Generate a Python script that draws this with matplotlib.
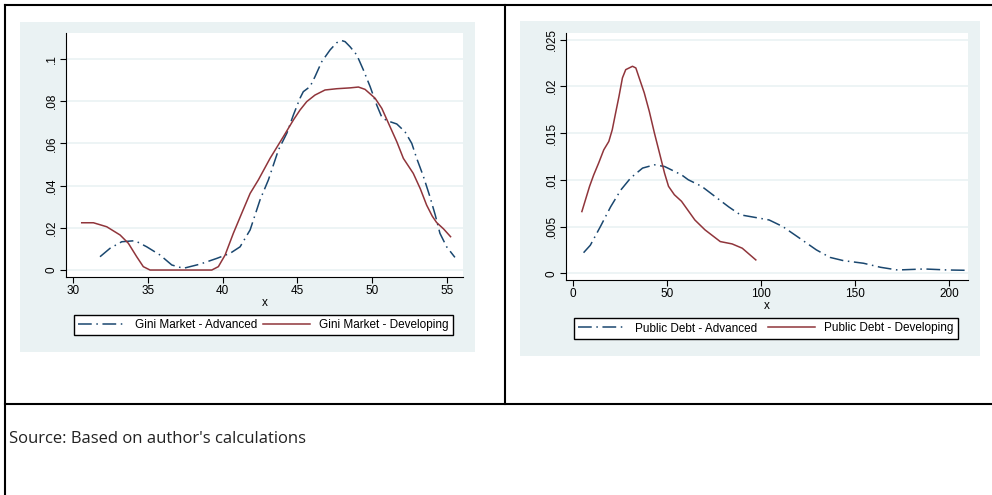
import numpy as np
import matplotlib.pyplot as plt
from matplotlib.lines import Line2D
from matplotlib.patches import Rectangle

plt.rcParams['font.family'] = ['Liberation Sans', 'DejaVu Sans']

# Gini market kernel densities
gini_adv_x = [31.82, 32.49, 33.27, 34.16, 34.94, 35.83, 36.61, 37.38, 38.5, 39.61,
              40.5, 41.17, 41.84, 42.5, 43.06, 43.73, 44.29, 44.73, 45.17, 45.39,
              45.84, 46.17, 46.62, 47.18, 47.62, 47.96, 48.18, 48.51, 48.96, 49.4,
              49.85, 50.29, 50.63, 50.96, 51.63, 52.18, 52.63, 52.96, 53.4, 53.84,
              54.2, 54.51, 54.96, 55.51]
gini_adv_y = [0.0063, 0.0103, 0.0134, 0.0139, 0.011, 0.0071, 0.0024, 0.0008, 0.0028, 0.0055,
              0.0079, 0.011, 0.019, 0.0332, 0.0427, 0.0569, 0.0648, 0.0735, 0.0814, 0.0845,
              0.0869, 0.0916, 0.0987, 0.1043, 0.1077, 0.1087, 0.1082, 0.1058, 0.1019, 0.0948,
              0.0869, 0.0782, 0.0724, 0.0708, 0.0692, 0.0655, 0.06, 0.0529, 0.0445, 0.0348,
              0.026, 0.0174, 0.011, 0.006]
gini_dev_x = [30.6, 31.38, 32.27, 33.16, 33.71, 34.27, 34.71, 35.16, 39.28, 39.72,
              40.17, 40.72, 41.28, 41.84, 42.39, 43.17, 44.06, 44.73, 45.17, 45.62,
              46.17, 46.84, 47.62, 48.51, 49.07, 49.51, 50.18, 50.63, 51.18, 51.63,
              52.07, 52.73, 53.2, 53.62, 54.0, 54.29, 54.75, 55.22]
gini_dev_y = [0.0224, 0.0224, 0.0205, 0.0166, 0.0127, 0.0063, 0.0016, 0.0, 0.0, 0.0016,
              0.0071, 0.0174, 0.0269, 0.0363, 0.0427, 0.0529, 0.0632, 0.0711, 0.0758, 0.0798,
              0.0829, 0.0853, 0.0859, 0.0863, 0.0867, 0.0856, 0.0814, 0.0766, 0.0679, 0.0608,
              0.0529, 0.0458, 0.0385, 0.0308, 0.0255, 0.0225, 0.0195, 0.0158]

# Public debt kernel densities
debt_adv_x = [5.74, 9.33, 14.7, 20.1, 25.5, 30.8, 37.1, 43.4, 48.8, 57.8, 61.4, 68.5,
              75.7, 82.9, 89.1, 99.0, 104.4, 111.6, 120.6, 129.5, 136.7, 143.9, 154.6,
              163.6, 172.6, 186.9, 199.5, 208.5]
debt_adv_y = [0.0022, 0.003, 0.005, 0.0071, 0.0089, 0.0102, 0.01125, 0.0116, 0.01142, 0.01053,
              0.0100, 0.0093, 0.0082, 0.0071, 0.00625, 0.0059, 0.0057, 0.005, 0.00375, 0.0025,
              0.0017, 0.00135, 0.00107, 0.00064, 0.00035, 0.00046, 0.00035, 0.00032]
debt_dev_x = [4.84, 8.93, 11.09, 13.78, 16.47, 19.16, 20.99, 22.77, 24.55, 26.4, 28.15,
              31.75, 33.53, 35.3, 38.0, 40.7, 43.4, 46.1, 48.8, 50.9, 54.0, 57.8, 64.9,
              70.3, 78.4, 84.7, 90.1, 97.3]
debt_dev_y = [0.0066, 0.0093, 0.0105, 0.0118, 0.0132, 0.0141, 0.01535, 0.01714, 0.0189, 0.0209,
              0.02178, 0.02214, 0.02196, 0.0209, 0.0193, 0.0173, 0.015, 0.01286, 0.0107, 0.0093,
              0.0084, 0.0077, 0.0057, 0.00464, 0.00339, 0.00314, 0.00268, 0.00143]

gini_xticks = [30, 35, 40, 45, 50, 55]
gini_yticks = [0, 0.02, 0.04, 0.06, 0.08, 0.1]
gini_ylabels = ["0", ".02", ".04", ".06", ".08", ".1"]
debt_xticks = [0, 50, 100, 150, 200]
debt_yticks = [0, 0.005, 0.01, 0.015, 0.02, 0.025]
debt_ylabels = ["0", ".005", ".01", ".015", ".02", ".025"]

NAVY = "#1a476f"
MAROON = "#90353b"
BG = "#eaf2f3"
W, H = 992, 495

fig = plt.figure(figsize=(W / 100, H / 100), dpi=100)


def fx(px):
    return px / W


def fy(py):
    return 1 - py / H


# table borders (no right edge in the original)
for xs, ys in [((5, 5), (5, 495)), ((5, 992), (5, 5)), ((505, 505), (5, 404)),
               ((5, 992), (404, 404))]:
    fig.add_artist(Line2D([fx(x) for x in xs], [fy(y) for y in ys], color="black", lw=1.5))


def panel(region, box, xr, yr, xt, yt, ylab, leg, adv, dev, names):
    rx0, ry0, rx1, ry1 = region
    fig.add_artist(Rectangle((fx(rx0), fy(ry1)), fx(rx1 - rx0), (ry1 - ry0) / H,
                             facecolor=BG, edgecolor="none", zorder=0))
    x0, y0, x1, y1 = box
    ax = fig.add_axes([fx(x0), fy(y1), fx(x1 - x0), (y1 - y0) / H])
    ax.set_facecolor("white")
    ax.plot(adv[0], adv[1], color=NAVY, lw=1.1, dashes=(9, 3, 1, 3), label=names[0])
    ax.plot(dev[0], dev[1], color=MAROON, lw=1.1, label=names[1])
    ax.set_xlim(*xr)
    ax.set_ylim(*yr)
    ax.set_xticks(xt)
    ax.set_yticks(yt)
    ax.set_yticklabels(ylab, rotation=90, va="center")
    ax.tick_params(labelsize=8.5, length=4, width=0.8, color="black", pad=2)
    ax.grid(axis="y", color=BG, lw=1.2)
    ax.set_axisbelow(True)
    for s in ["top", "right"]:
        ax.spines[s].set_visible(False)
    ax.set_xlabel("x", fontsize=8.5, labelpad=0)
    lx0, ly0, lx1, ly1 = leg
    lg = ax.legend(loc="center", bbox_to_anchor=(fx(lx0), fy(ly1), fx(lx1 - lx0), (ly1 - ly0) / H),
                   bbox_transform=fig.transFigure, mode="expand", ncol=2, fontsize=8.5,
                   frameon=True, fancybox=False, edgecolor="black", framealpha=1,
                   handlelength=4, borderaxespad=0, borderpad=0.35, columnspacing=1.5)
    lg.get_frame().set_linewidth(1.0)
    return ax


panel((20, 22, 475, 352), (66, 33, 463, 277), (29.55, 56.05), (-0.0033, 0.1123),
      gini_xticks, gini_yticks, gini_ylabels, (74, 314, 453, 336),
      (gini_adv_x, gini_adv_y), (gini_dev_x, gini_dev_y),
      ["Gini Market - Advanced", "Gini Market - Developing"])
panel((520, 21, 980, 356), (566, 33, 968, 280), (-3.6, 210.1), (-0.00072, 0.0257),
      debt_xticks, debt_yticks, debt_ylabels, (574, 318, 958, 339),
      (debt_adv_x, debt_adv_y), (debt_dev_x, debt_dev_y),
      ["Public Debt - Advanced", "Public Debt - Developing"])

fig.text(fx(9), fy(439), "Source: Based on author's calculations", fontsize=12,
         family=["Open Sans", "DejaVu Sans"], va="center", ha="left", color="#222222")

fig.savefig("out.png", dpi=100)
